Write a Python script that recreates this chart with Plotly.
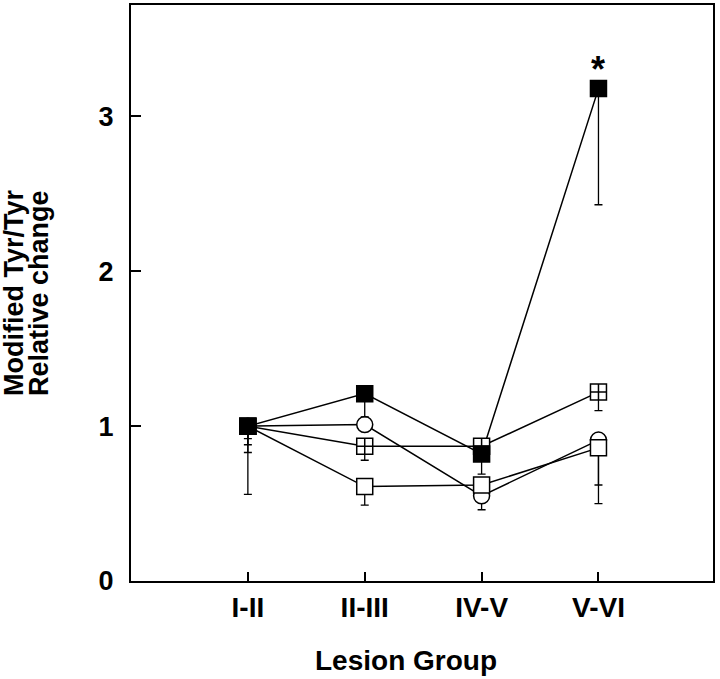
import plotly.graph_objects as go

groups = ["I-II", "II-III", "IV-V", "V-VI"]
x_idx = [0, 1, 2, 3]

# series values (relative change) and lower error extents
filled_sq = [1.00, 1.21, 0.82, 3.18]
filled_sq_low = [0.83, 1.06, 0.69, 2.43]
cross_sq = [1.00, 0.87, 0.87, 1.22]
cross_sq_low = [0.88, 0.78, 0.87, 1.10]
circle = [1.00, 1.01, 0.55, 0.91]
circle_low = [0.92, 1.01, 0.46, 0.62]
open_sq = [1.00, 0.61, 0.62, 0.86]
open_sq_low = [0.56, 0.49, 0.62, 0.50]

y_ticks = [0, 1, 2, 3]

FONT = "Liberation Sans, Arial, Helvetica, sans-serif"

series = [
    ("circle", circle, circle_low, "circle", "white"),
    ("open square", open_sq, open_sq_low, "square", "white"),
    ("crossed square", cross_sq, cross_sq_low, "square-cross", "white"),
    ("filled square", filled_sq, filled_sq_low, "square", "black"),
]

fig = go.Figure()

# connecting lines first (under all markers)
for name, vals, low, sym, fill in series:
    fig.add_trace(go.Scatter(
        x=x_idx, y=vals, mode="lines",
        line=dict(color="black", width=1.5),
        showlegend=False, hoverinfo="skip",
    ))

# markers with downward error bars
for name, vals, low, sym, fill in series:
    minus = [v - l for v, l in zip(vals, low)]
    fig.add_trace(go.Scatter(
        x=x_idx, y=vals, mode="markers", name=name,
        marker=dict(symbol=sym, size=16, color=fill,
                    line=dict(color="black", width=1.5)),
        error_y=dict(type="data", symmetric=False,
                     array=[0] * len(vals), arrayminus=minus,
                     color="black", thickness=1.3, width=4),
        showlegend=False,
    ))

fig.add_annotation(x=3, y=filled_sq[3], text="<b>*</b>", showarrow=False,
                   yshift=19, font=dict(family=FONT, size=36, color="black"))

# axis titles as annotations (tight two-line y title)
fig.add_annotation(xref="x", yref="paper", x=1.35, y=0, yshift=-79,
                   xanchor="center", yanchor="middle", showarrow=False,
                   text="<b>Lesion Group</b>",
                   font=dict(family=FONT, size=28, color="black"))
fig.add_annotation(xref="paper", yref="paper", x=0, y=0.5, xshift=-117,
                   xanchor="center", yanchor="middle", showarrow=False,
                   textangle=-90, text="<b>Modified Tyr/Tyr</b>",
                   font=dict(family=FONT, size=27, color="black"))
fig.add_annotation(xref="paper", yref="paper", x=0, y=0.5, xshift=-92,
                   xanchor="center", yanchor="middle", showarrow=False,
                   textangle=-90, text="<b>Relative change</b>",
                   font=dict(family=FONT, size=27, color="black"))

fig.update_layout(
    width=720, height=679,
    margin=dict(l=131, r=7, t=3, b=98),
    paper_bgcolor="white", plot_bgcolor="white",
    font=dict(family=FONT, color="black"),
    xaxis=dict(
        range=[-1, 3.98], tickmode="array", tickvals=x_idx, ticktext=groups,
        ticks="inside", ticklen=9, tickwidth=2, tickcolor="black",
        showline=True, linecolor="black", linewidth=2, mirror=True,
        showgrid=False, zeroline=False,
        tickfont=dict(family=FONT, size=28, weight="bold"),
        ticklabelstandoff=0,
    ),
    yaxis=dict(
        range=[0, 3.72], tickmode="array", tickvals=y_ticks,
        ticks="inside", ticklen=10, tickwidth=2, tickcolor="black",
        showline=True, linecolor="black", linewidth=2, mirror=True,
        showgrid=False, zeroline=False,
        tickfont=dict(family=FONT, size=27, weight="bold"),
        ticklabelstandoff=10,
    ),
)

fig.write_html("out.html", config={"displayModeBar": False},
               post_script="document.body.style.margin='0';")
